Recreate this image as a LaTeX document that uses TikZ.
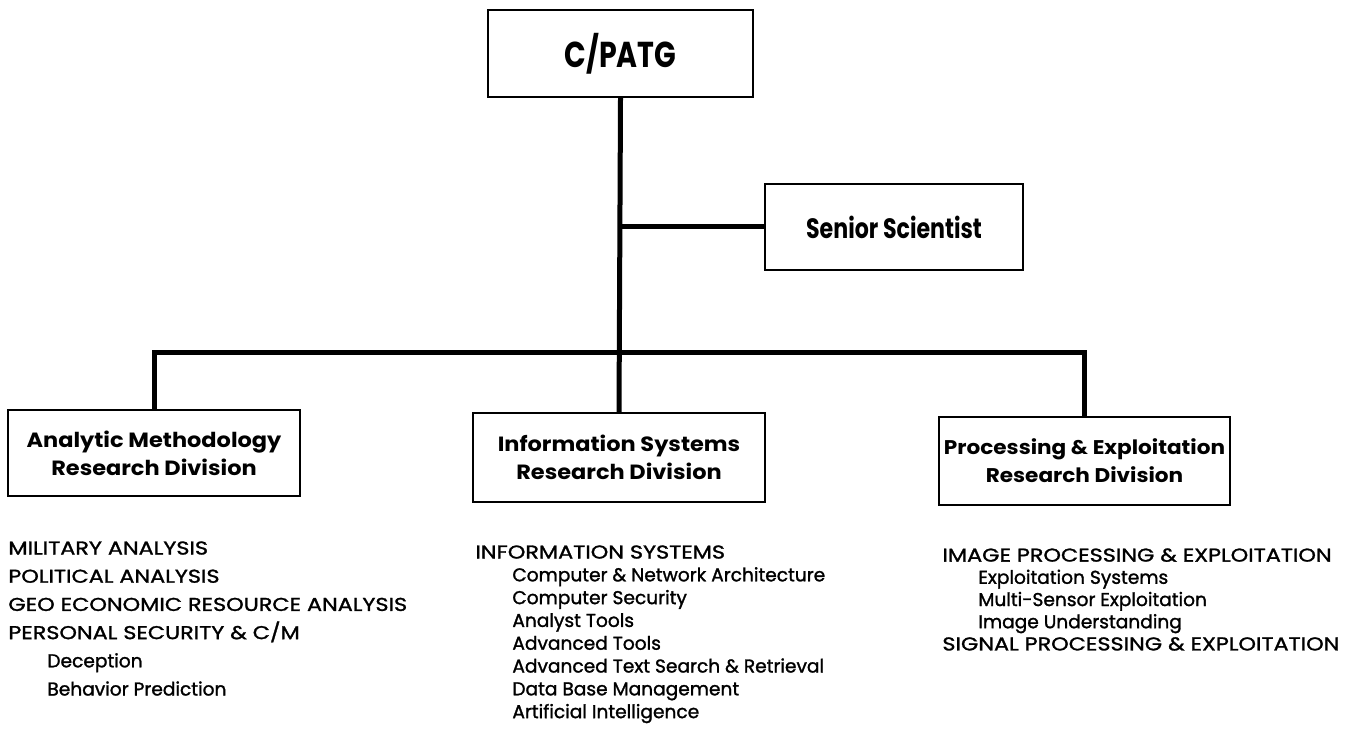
\documentclass[tikz,border=0pt]{standalone}
\usepackage{fontspec}
\setmainfont{Poppins}
\newfontfamily\topfont{Poppins}[FakeStretch=0.79]
\newfontfamily\headfont{Poppins}[FakeStretch=1.09]
\newfontfamily\listfont{Poppins}[FakeBold=1.4]
\newfontfamily\capsfont{Poppins}[FakeBold=1.4, FakeStretch=1.2]
\usetikzlibrary{positioning}

\tikzset{
  orgbox/.style={draw, line width=1pt, inner sep=0pt, align=center,
    font=\headfont\bfseries\fontsize{10.3}{14}\selectfont},
  topbox/.style={orgbox, font=\topfont\bfseries\fontsize{14}{16}\selectfont},
  trunk/.style={line width=2.5pt},
  tasklist/.style={anchor=north west, inner sep=0pt, align=left,
    font=\listfont\fontsize{9.3}{11.4}\selectfont}
}

\begin{document}
\begin{tikzpicture}[x=0.5pt,y=-0.5pt]
\useasboundingbox (0,0) rectangle (1358,731);
% boxes
\node[topbox, minimum width=132.5pt, minimum height=43.5pt,
  font=\topfont\bfseries\fontsize{18}{20}\selectfont] (patg) at (620.5,53.5) {C/PATG};
\node[topbox, minimum width=129pt, minimum height=43pt] (senior) at (894,227)
  {Senior Scientist};
\node[orgbox, minimum width=146pt, minimum height=43pt] (amrd) at (154,453)
  {Analytic Methodology\\Research Division};
\node[orgbox, minimum width=146pt, minimum height=44.5pt] (isrd) at (619,457.5)
  {Information Systems\\Research Division};
\node[orgbox, minimum width=145.5pt, minimum height=44pt,
  font=\headfont\bfseries\fontsize{9.9}{14}\selectfont] (perd) at (1084.5,461)
  {Processing \& Exploitation\\Research Division};
% connectors
\coordinate (tap) at (620,227);
\coordinate (bus) at (620,353);
\draw[trunk] (patg.south) -- (isrd.north);
\draw[trunk] (tap) -- (senior.west);
\draw[trunk] (amrd.north) |- (bus) -| (perd.north);
% task lists
\node[tasklist, font=\listfont\fontsize{9.3}{14.1}\selectfont] (amlist) at (8,541)
  {\capsfont MILITARY ANALYSIS\\
   \capsfont POLITICAL ANALYSIS\\
   \capsfont GEO ECONOMIC RESOURCE ANALYSIS\\
   \capsfont PERSONAL SECURITY \& C/M\\
   \hspace*{19.5pt}Deception\\
   \hspace*{19.5pt}Behavior Prediction};
\node[tasklist] (islist) at (475,545)
  {\capsfont INFORMATION SYSTEMS\\
   \hspace*{18.5pt}Computer \& Network Architecture\\
   \hspace*{18.5pt}Computer Security\\
   \hspace*{18.5pt}Analyst Tools\\
   \hspace*{18.5pt}Advanced Tools\\
   \hspace*{18.5pt}Advanced Text Search \& Retrieval\\
   \hspace*{18.5pt}Data Base Management\\
   \hspace*{18.5pt}Artificial Intelligence};
\node[tasklist, font=\listfont\fontsize{9.3}{11.1}\selectfont] (pelist) at (942,548)
  {\capsfont IMAGE PROCESSING \& EXPLOITATION\\
   \hspace*{18pt}Exploitation Systems\\
   \hspace*{18pt}Multi-Sensor Exploitation\\
   \hspace*{18pt}Image Understanding\\
   \capsfont SIGNAL PROCESSING \& EXPLOITATION};
\end{tikzpicture}
\end{document}
